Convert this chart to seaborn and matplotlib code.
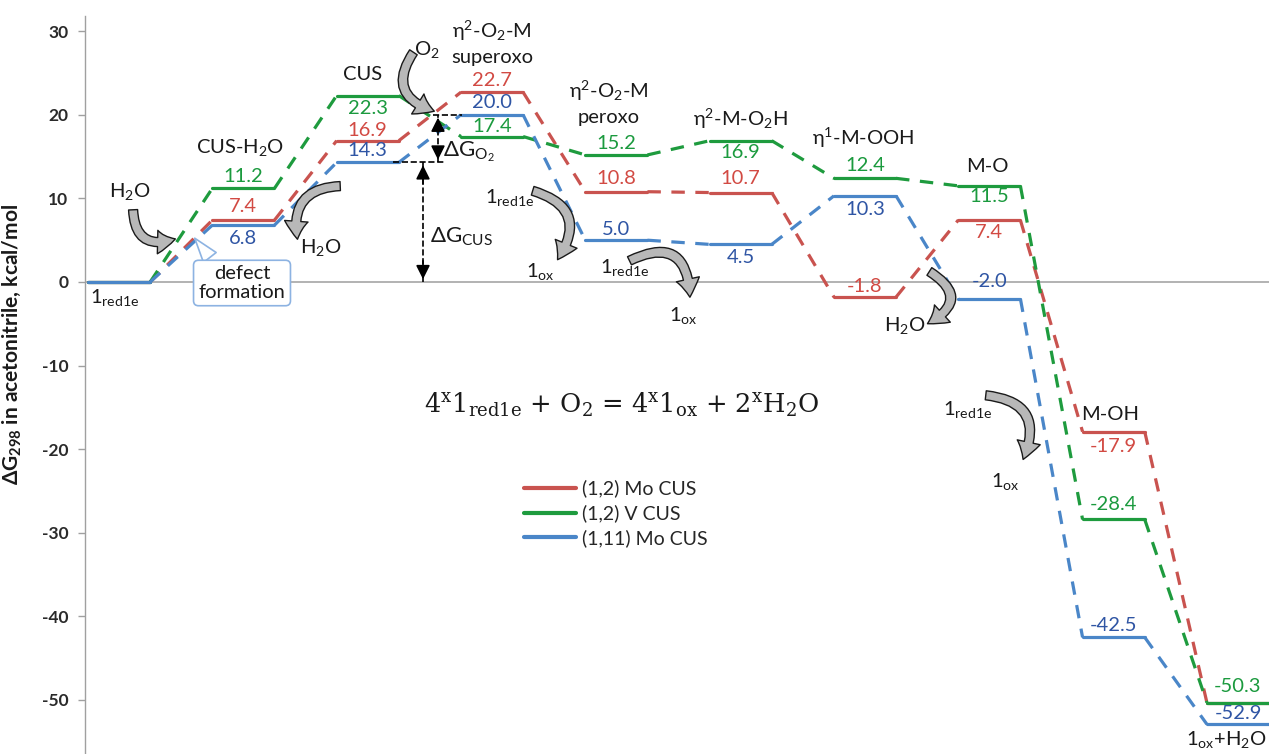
import matplotlib
matplotlib.use("Agg")
import numpy as np
import pandas as pd
import seaborn as sns
import matplotlib.pyplot as plt
from matplotlib.patches import FancyArrowPatch
from matplotlib.lines import Line2D

# ---------------- data ----------------
stages = ["1red1e", "CUS-H2O", "CUS", "superoxo", "peroxo", "M-O2H", "M-OOH", "M-O", "M-OH", "1ox+H2O"]
series_names = ["(1,2) Mo CUS", "(1,2) V CUS", "(1,11) Mo CUS"]
mo_12 = [0.0, 7.4, 16.9, 22.7, 10.8, 10.7, -1.8, 7.4, -17.9, -50.3]
v_12 = [0.0, 11.2, 22.3, 17.4, 15.2, 16.9, 12.4, 11.5, -28.4, -50.3]
mo_111 = [0.0, 6.8, 14.3, 20.0, 5.0, 4.5, 10.3, -2.0, -42.5, -52.9]
yticks = [-50, -40, -30, -20, -10, 0, 10, 20, 30]

# ---------------- style ----------------
sns.set_theme(style="white")
plt.rcParams["font.family"] = ["Lato", "DejaVu Sans"]
plt.rcParams["mathtext.default"] = "regular"
plt.rcParams["axes.unicode_minus"] = False

line_colors = {"(1,2) Mo CUS": "#C9534F", "(1,2) V CUS": "#1E9B3E", "(1,11) Mo CUS": "#4A86C8"}
text_colors = {"(1,2) Mo CUS": "#D24A43", "(1,2) V CUS": "#1B9A3E", "(1,11) Mo CUS": "#2F55A4"}

series_vals = {"(1,2) Mo CUS": mo_12, "(1,2) V CUS": v_12, "(1,11) Mo CUS": mo_111}

rows = []
for name in series_names:
    vals = series_vals[name]
    for k in range(2 * len(vals) - 1):
        for j in (k, k + 1):
            rows.append(dict(series=name, x=j, y=vals[j // 2], seg=k,
                             kind="level" if k % 2 == 0 else "step"))
df = pd.DataFrame(rows)

W, H = 1269, 754
fig = plt.figure(figsize=(W / 100, H / 100), dpi=100)
AX_L = 85
ax = fig.add_axes([AX_L / W, 0, 1 - AX_L / W, 738 / H])

XS, X0 = 62.16, 88.0   # px per x unit, px of x=0
YS, Y0 = 8.36, 282.0   # px per y unit, px of y=0
ax.set_xlim((AX_L - X0) / XS, (W - X0) / XS)
ax.set_ylim((Y0 - H) / YS, (Y0 - 16) / YS)


def P(px, py):
    return ((px - X0) / XS, (Y0 - py) / YS)


ax.axhline(0, color="#A6A6A6", lw=1.2, zorder=1)

sns.lineplot(data=df, x="x", y="y", hue="series", style="kind", units="seg",
             estimator=None, sort=False, palette=line_colors,
             hue_order=series_names, dashes={"level": "", "step": (4.2, 3.3)},
             linewidth=2.3, legend=False, ax=ax, zorder=3)

# axes styling
for s in ["top", "right", "bottom"]:
    ax.spines[s].set_visible(False)
ax.spines["left"].set_color("#A0A0A0")
ax.spines["left"].set_linewidth(1.0)
ax.set_xticks([])
ax.set_yticks(yticks)
ax.set_yticklabels([str(t) for t in yticks])
ax.tick_params(axis="y", left=True, length=5, width=1, color="#A0A0A0", pad=7,
               labelsize=12.5, labelcolor="#2a2a2a")
for lab in ax.get_yticklabels():
    lab.set_fontweight("bold")
ax.set_xlabel("")
ax.set_ylabel("ΔG$_{298}$ in acetonitrile, kcal/mol", fontsize=15, fontweight="bold",
              color="#1a1a1a")
ax.yaxis.set_label_coords((23 - AX_L) / (W - AX_L), 0.555)

# ---------------- value labels ----------------
offsets_px = {
    "(1,2) Mo CUS": [None, -14, -10, -12, -13, -14, -11, 12, 15, None],
    "(1,2) V CUS": [None, -12, 13, -10, -11, 12, -13, 11, -15, -16],
    "(1,11) Mo CUS": [None, 13, -12, -12, -11, 13, 14, -17, -12, -11],
}
for name in series_names:
    vals = series_vals[name]
    for i, v in enumerate(vals):
        off = offsets_px[name][i]
        if off is None:
            continue
        ax.annotate(f"{v:.1f}", xy=(2 * i + 0.5, v), xytext=(0, -off * 0.72),
                    textcoords="offset points", ha="center", va="center",
                    fontsize=14.5, color=text_colors[name], zorder=6)

# ---------------- stage labels ----------------
stage_labels = [
    ("1$_{red1e}$", 90, 298, "left"),
    ("CUS-H$_2$O", 240, 148, "center"),
    ("CUS", 363, 75, "center"),
    ("η$^2$-O$_2$-M", 492, 31, "center"),
    ("superoxo", 492, 58, "center"),
    ("η$^2$-O$_2$-M", 609, 91, "center"),
    ("peroxo", 609, 117, "center"),
    ("η$^2$-M-O$_2$H", 740, 119, "center"),
    ("η$^1$-M-OOH", 863, 138, "center"),
    ("M-O", 987, 167, "center"),
    ("M-OH", 1110, 415, "center"),
    ("1$_{ox}$+H$_2$O", 1266, 740, "right"),
]
for txt, px, py, ha in stage_labels:
    ax.text(*P(px, py), txt, ha=ha, va="center", fontsize=14.5, color="#1a1a1a", zorder=6)

# species texts near arrows
species = [
    ("H$_2$O", 130, 192, "center"),
    ("H$_2$O", 321, 248, "center"),
    ("O$_2$", 427, 50, "center"),
    ("1$_{red1e}$", 485, 198, "left"),
    ("1$_{ox}$", 540, 272, "center"),
    ("1$_{red1e}$", 600, 267, "left"),
    ("1$_{ox}$", 683, 315, "center"),
    ("H$_2$O", 905, 326, "center"),
    ("1$_{red1e}$", 943, 409, "left"),
    ("1$_{ox}$", 1005, 482, "center"),
]
for txt, px, py, ha in species:
    ax.text(*P(px, py), txt, ha=ha, va="center", fontsize=14.5, color="#1a1a1a", zorder=6)


def curved(p0, p1, rad):
    a = FancyArrowPatch(P(*p0), P(*p1), connectionstyle=f"arc3,rad={rad}",
                        arrowstyle="simple,head_width=1.3,head_length=1.0,tail_width=0.5",
                        mutation_scale=13, fc="#B8B8B8", ec="#1a1a1a", lw=1.0, zorder=5)
    ax.add_patch(a)


curved((133, 207), (178, 238), 0.7)
curved((343, 186), (298, 242), 0.6)
curved((415, 50), (437, 112), 0.7)
curved((530, 190), (556, 262), -0.7)
curved((627, 262), (690, 300), -0.8)
curved((927, 270), (925, 325), -0.9)
curved((983, 395), (1022, 462), -0.7)

# defect formation callout
ax.annotate("defect\nformation", xy=P(193, 236), xytext=P(242, 283), ha="center", va="center",
            fontsize=14.5, color="#1a1a1a", linespacing=1.1,
            bbox=dict(boxstyle="round,pad=0.25", fc="white", ec="#8DB3E2", lw=1.2),
            arrowprops=dict(arrowstyle="wedge,tail_width=0.8,shrink_factor=0.5", fc="white",
                            ec="#8DB3E2", lw=1.2, relpos=(0.2, 1.0)), zorder=6)

# Delta G markers derived from the (1,11) Mo CUS series
g_cus = mo_111[2]
g_sup = mo_111[3]
xa = P(423, 0)[0]
xb = P(438, 0)[0]
ax.plot([P(393, 0)[0], P(445, 0)[0]], [g_cus, g_cus], ls="--", color="black", lw=1.2, zorder=4)
ax.plot([P(433, 0)[0], P(462, 0)[0]], [g_sup, g_sup], ls="--", color="black", lw=1.2, zorder=4)
for x, y0, y1 in [(xa, 0, g_cus), (xb, g_cus, g_sup)]:
    ax.plot([x, x], [y0, y1], ls="--", color="black", lw=1.2, zorder=4)
    ax.annotate("", xy=(x, y1), xytext=(x, y1 - (y1 - y0) * 0.2),
                arrowprops=dict(arrowstyle="-|>,head_width=0.35,head_length=0.7", color="black", lw=1.2),
                zorder=4)
    ax.annotate("", xy=(x, y0), xytext=(x, y0 + (y1 - y0) * 0.2),
                arrowprops=dict(arrowstyle="-|>,head_width=0.35,head_length=0.7", color="black", lw=1.2),
                zorder=4)
ax.text(*P(443, 152), "ΔG$_{O_2}$", ha="left", va="center", fontsize=16, color="#1a1a1a")
ax.text(*P(430, 237), "ΔG$_{CUS}$", ha="left", va="center", fontsize=16, color="#1a1a1a")

# equation
ax.text(*P(622, 405), "4$^x$1$_{red1e}$ + O$_2$ = 4$^x$1$_{ox}$ + 2$^x$H$_2$O", ha="center",
        va="center", fontsize=18.5, family="DejaVu Serif", color="#1a1a1a")

# legend
handles = [Line2D([], [], color=line_colors[n], lw=3) for n in series_names]
ax.legend(handles, series_names, loc="upper left", bbox_to_anchor=(514 / W, 1 - 470 / H),
          bbox_transform=fig.transFigure, frameon=False, fontsize=14, handlelength=2.7,
          handletextpad=0.3, labelspacing=0.35, borderpad=0)

fig.savefig("out.png", dpi=100)
